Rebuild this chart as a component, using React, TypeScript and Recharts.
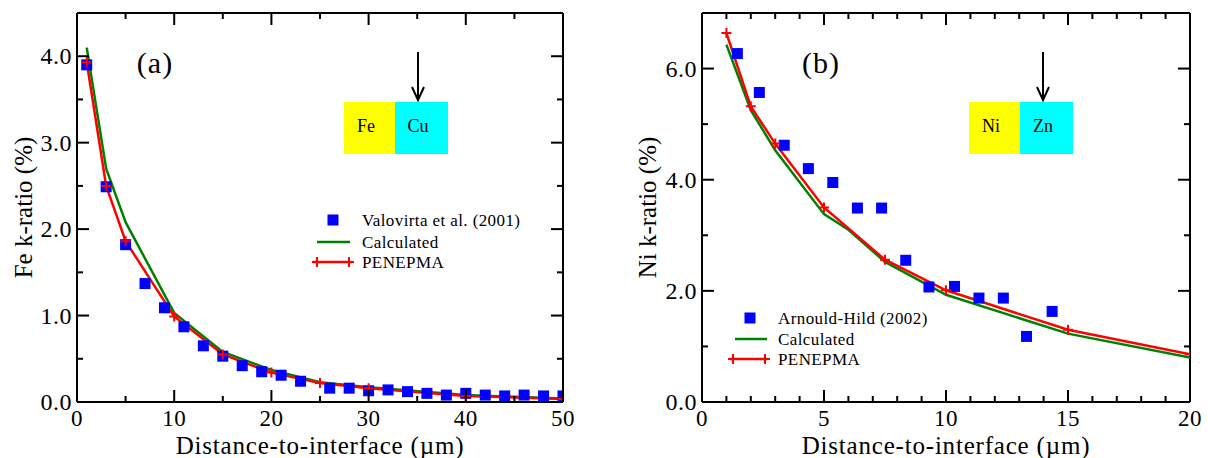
import React from 'react';
import { ComposedChart, Line, Scatter, XAxis, YAxis } from 'recharts';

// ---------- Panel (a): Fe / Cu ----------
const feExpX = [1, 3, 5, 7, 9, 11, 13, 15, 17, 19, 21, 23, 26, 28, 30, 32, 34, 36, 38, 40, 42, 44, 46, 48, 50];
const feExpY = [3.9, 2.49, 1.82, 1.37, 1.09, 0.87, 0.65, 0.53, 0.42, 0.35, 0.31, 0.24, 0.16, 0.16, 0.13, 0.14, 0.12, 0.1, 0.08, 0.1, 0.08, 0.07, 0.08, 0.07, 0.07];
const feCalcX = [1, 3, 5, 10, 15, 20, 25, 30, 40, 50];
const feCalcY = [4.1, 2.7, 2.08, 1.03, 0.58, 0.37, 0.23, 0.17, 0.08, 0.04];
const fePenX = [1, 3, 5, 10, 15, 20, 25, 30, 40, 50];
const fePenY = [3.93, 2.5, 1.86, 0.99, 0.55, 0.34, 0.22, 0.16, 0.07, 0.035];

// ---------- Panel (b): Ni / Zn ----------
const niExpX = [1.45, 2.35, 3.37, 4.36, 5.36, 6.37, 7.36, 8.35, 9.3, 10.35, 11.35, 12.35, 13.3, 14.35];
const niExpY = [6.27, 5.57, 4.62, 4.2, 3.95, 3.49, 3.49, 2.55, 2.07, 2.08, 1.87, 1.87, 1.18, 1.63];
const niCalcX = [1, 2, 3, 5, 6, 7.5, 10, 15, 20];
const niCalcY = [6.43, 5.25, 4.53, 3.38, 3.1, 2.52, 1.93, 1.23, 0.8];
const niPenX = [1, 2, 3, 5, 7.5, 10, 15, 20];
const niPenY = [6.64, 5.32, 4.65, 3.5, 2.56, 2.01, 1.3, 0.86];

// ---------- ticks ----------
const feXTicks = [0, 5, 10, 15, 20, 25, 30, 35, 40, 45, 50];
const feXMajor = [0, 10, 20, 30, 40, 50];
const feYTicks = [0, 0.5, 1, 1.5, 2, 2.5, 3, 3.5, 4];
const feYMajor = [0, 1, 2, 3, 4];
const niXTicks = [0, 1, 2, 3, 4, 5, 6, 7, 8, 9, 10, 11, 12, 13, 14, 15, 16, 17, 18, 19, 20];
const niXMajor = [0, 5, 10, 15, 20];
const niYTicks = [0, 1, 2, 3, 4, 5, 6];
const niYMajor = [0, 2, 4, 6];

const pts = (xs: number[], ys: number[]) => xs.map((x, i) => ({ x, y: ys[i] }));

const FONT = '"Liberation Serif", "Times New Roman", Times, serif';
const BLUE = '#0000ff';
const GREEN = '#008000';
const RED = '#ff0000';

type Side = 'bottom' | 'top' | 'left' | 'right';

function makeTick(side: Side, majors: number[], fmt?: (v: number) => string) {
  return (props: any) => {
    const { x, y, payload } = props;
    const v = payload.value as number;
    const major = majors.some((m) => Math.abs(m - v) < 1e-6);
    const len = major ? 12 : 6;
    let x2 = x, y2 = y;
    if (side === 'bottom') y2 = y - len;
    if (side === 'top') y2 = y + len;
    if (side === 'left') x2 = x + len;
    if (side === 'right') x2 = x - len;
    return (
      <g>
        <line x1={x} y1={y} x2={x2} y2={y2} stroke="#000" strokeWidth={2} />
        {fmt && major && side === 'bottom' && (
          <text x={x} y={y + 24} textAnchor="middle" fontFamily={FONT} fontSize={23} letterSpacing={0.5} fill="#000">
            {fmt(v)}
          </text>
        )}
        {fmt && major && side === 'left' && (
          <text x={x - 5} y={y + 8} textAnchor="end" fontFamily={FONT} fontSize={24} letterSpacing={0.5} fill="#000">
            {fmt(v)}
          </text>
        )}
      </g>
    );
  };
}

const SquareShape = (props: any) => (
  <rect x={props.cx - 5.5} y={props.cy - 5.5} width={11} height={11} fill={BLUE} />
);

const PlusDot = (props: any) => {
  const { cx, cy, index } = props;
  if (cx == null || cy == null) return <g key={index} />;
  return (
    <path
      key={index}
      d={`M${cx - 5},${cy}h10M${cx},${cy - 5}v10`}
      stroke={RED}
      strokeWidth={2}
      fill="none"
    />
  );
};

const axisLine = { stroke: '#000', strokeWidth: 2 };

interface PanelProps {
  width: number;
  leftW: number;
  rightW: number;
  xDomain: [number, number];
  yDomain: [number, number];
  xTicks: number[];
  xMajor: number[];
  yTicks: number[];
  yMajor: number[];
  yLabel: string;
  yLabelOffset: number;
  exp: { x: number; y: number }[];
  calc: { x: number; y: number }[];
  pen: { x: number; y: number }[];
}

function Panel(p: PanelProps) {
  return (
    <ComposedChart width={p.width} height={458} margin={{ top: 0, right: 0, bottom: 0, left: 0 }}>
      <XAxis
        xAxisId="t"
        orientation="top"
        type="number"
        dataKey="x"
        domain={p.xDomain}
        ticks={p.xTicks}
        interval={0}
        height={13}
        tickSize={0}
        tickMargin={0}
        tickLine={false}
        axisLine={axisLine}
        tick={makeTick('top', p.xMajor)}
        allowDataOverflow
      />
      <XAxis
        type="number"
        dataKey="x"
        domain={p.xDomain}
        ticks={p.xTicks}
        interval={0}
        height={56}
        tickSize={0}
        tickMargin={0}
        tickLine={false}
        axisLine={axisLine}
        tick={makeTick('bottom', p.xMajor, (v) => String(v))}
        allowDataOverflow
        label={{
          value: 'Distance-to-interface (µm)',
          position: 'insideBottom',
          offset: 4,
          style: { fontFamily: FONT, fontSize: 25, letterSpacing: 0.8, fill: '#000' },
        }}
      />
      <YAxis
        type="number"
        domain={p.yDomain}
        ticks={p.yTicks}
        interval={0}
        width={p.leftW}
        tickSize={0}
        tickMargin={0}
        tickLine={false}
        axisLine={axisLine}
        tick={makeTick('left', p.yMajor, (v) => v.toFixed(1))}
        allowDataOverflow
        label={{
          value: p.yLabel,
          angle: -90,
          position: 'insideLeft',
          offset: p.yLabelOffset,
          style: { fontFamily: FONT, fontSize: 25, textAnchor: 'middle', fill: '#000' },
        }}
      />
      <YAxis
        yAxisId="r"
        orientation="right"
        type="number"
        domain={p.yDomain}
        ticks={p.yTicks}
        interval={0}
        width={p.rightW}
        tickSize={0}
        tickMargin={0}
        tickLine={false}
        axisLine={axisLine}
        tick={makeTick('right', p.yMajor)}
        allowDataOverflow
      />
      <Scatter data={p.exp} dataKey="y" shape={SquareShape} isAnimationActive={false} />
      <Line
        data={p.calc}
        dataKey="y"
        type="linear"
        stroke={GREEN}
        strokeWidth={2.5}
        dot={false}
        isAnimationActive={false}
      />
      <Line
        data={p.pen}
        dataKey="y"
        type="linear"
        stroke={RED}
        strokeWidth={2.5}
        dot={PlusDot}
        activeDot={false}
        isAnimationActive={false}
      />
    </ComposedChart>
  );
}

function Overlay() {
  const t = { fontFamily: FONT, fill: '#000' } as const;
  const legendText = { ...t, fontSize: 17, letterSpacing: 0.4 };
  const plus = (cx: number, cy: number, k: string) => (
    <path key={k} d={`M${cx - 5},${cy}h10M${cx},${cy - 5}v10`} stroke={RED} strokeWidth={2} />
  );
  return (
    <svg
      width={1208}
      height={458}
      style={{ position: 'absolute', left: 0, top: 0, pointerEvents: 'none' }}
    >
      {/* panel labels */}
      <text x={155} y={73} textAnchor="middle" fontSize={30} letterSpacing={1} {...t}>(a)</text>
      <text x={821} y={73} textAnchor="middle" fontSize={30} letterSpacing={1} {...t}>(b)</text>

      {/* inset a */}
      <rect x={344} y={102} width={51} height={52} fill="#ffff00" />
      <rect x={395} y={102} width={53} height={52} fill="#00ffff" />
      <text x={366} y={132} textAnchor="middle" fontSize={18} {...t}>Fe</text>
      <text x={418} y={132} textAnchor="middle" fontSize={18} {...t}>Cu</text>
      <line x1={418} y1={52} x2={418} y2={99} stroke="#000" strokeWidth={2} />
      <path d="M412,87 L418,100 L424,87" stroke="#000" strokeWidth={2} fill="none" />

      {/* inset b */}
      <rect x={969} y={102} width={51} height={52} fill="#ffff00" />
      <rect x={1020} y={102} width={53} height={52} fill="#00ffff" />
      <text x={991} y={132} textAnchor="middle" fontSize={18} {...t}>Ni</text>
      <text x={1043} y={132} textAnchor="middle" fontSize={18} {...t}>Zn</text>
      <line x1={1043} y1={52} x2={1043} y2={99} stroke="#000" strokeWidth={2} />
      <path d="M1037,87 L1043,100 L1049,87" stroke="#000" strokeWidth={2} fill="none" />

      {/* legend a */}
      <rect x={327.5} y={214.5} width={11} height={11} fill={BLUE} />
      <text x={362} y={226} {...legendText}>Valovirta et al. (2001)</text>
      <line x1={317} y1={242} x2={350} y2={242} stroke={GREEN} strokeWidth={2.5} />
      <text x={362} y={248} {...legendText}>Calculated</text>
      <line x1={313} y1={262} x2={352} y2={262} stroke={RED} strokeWidth={2.5} />
      {plus(317, 262, 'a1')}
      {plus(349, 262, 'a2')}
      <text x={362} y={268} {...legendText}>PENEPMA</text>

      {/* legend b */}
      <rect x={744.5} y={312.5} width={11} height={11} fill={BLUE} />
      <text x={778} y={324} {...legendText}>Arnould-Hild (2002)</text>
      <line x1={735} y1={339} x2={767} y2={339} stroke={GREEN} strokeWidth={2.5} />
      <text x={778} y={345} {...legendText}>Calculated</text>
      <line x1={730} y1={359} x2={767} y2={359} stroke={RED} strokeWidth={2.5} />
      {plus(733, 359, 'b1')}
      {plus(765, 359, 'b2')}
      <text x={778} y={365} {...legendText}>PENEPMA</text>
    </svg>
  );
}

export default function App() {
  return (
    <div style={{ position: 'absolute', left: 0, top: 0, width: 1208, height: 458, background: '#fff' }}>
      <div style={{ position: 'absolute', left: 0, top: 0 }}>
        <Panel
          width={600}
          leftW={77}
          rightW={37}
          xDomain={[0, 50]}
          yDomain={[0, 4.5]}
          xTicks={feXTicks}
          xMajor={feXMajor}
          yTicks={feYTicks}
          yMajor={feYMajor}
          yLabel="Fe k-ratio (%)"
          yLabelOffset={23}
          exp={pts(feExpX, feExpY)}
          calc={pts(feCalcX, feCalcY)}
          pen={pts(fePenX, fePenY)}
        />
      </div>
      <div style={{ position: 'absolute', left: 600, top: 0 }}>
        <Panel
          width={608}
          leftW={102}
          rightW={18}
          xDomain={[0, 20]}
          yDomain={[0, 7]}
          xTicks={niXTicks}
          xMajor={niXMajor}
          yTicks={niYTicks}
          yMajor={niYMajor}
          yLabel="Ni k-ratio (%)"
          yLabelOffset={47}
          exp={pts(niExpX, niExpY)}
          calc={pts(niCalcX, niCalcY)}
          pen={pts(niPenX, niPenY)}
        />
      </div>
      <Overlay />
    </div>
  );
}
